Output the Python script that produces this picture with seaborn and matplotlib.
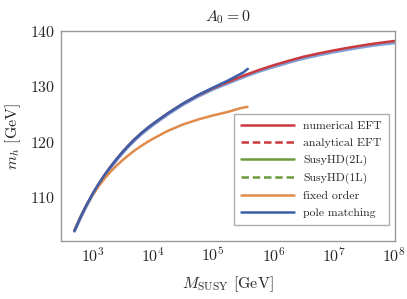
import numpy as np
import pandas as pd
import matplotlib
matplotlib.use("Agg")
import matplotlib.pyplot as plt
import seaborn as sns
from matplotlib.lines import Line2D

# log10(M_SUSY / GeV) grid and m_h values
logm_eft = [2.70, 2.80, 2.90, 3.00, 3.10, 3.20, 3.30, 3.40, 3.50, 3.60, 3.70,
            3.80, 3.90, 4.00, 4.25, 4.50, 4.75, 5.00, 5.25, 5.50, 5.75, 6.00,
            6.25, 6.50, 6.75, 7.00, 7.25, 7.50, 7.75, 8.00]
mh_eft = [103.9, 106.3, 108.5, 110.5, 112.3, 113.95, 115.45, 116.85, 118.15,
          119.35, 120.45, 121.45, 122.35, 123.2, 125.15, 126.9, 128.4, 129.7,
          130.85, 131.95, 132.95, 133.85, 134.65, 135.4, 136.0, 136.55, 137.05,
          137.5, 137.9, 138.25]
mh_low = [103.7, 106.1, 108.3, 110.3, 112.1, 113.75, 115.25, 116.65, 117.95,
          119.15, 120.25, 121.25, 122.15, 123.0, 124.95, 126.7, 128.2, 129.5,
          130.6, 131.7, 132.7, 133.55, 134.35, 135.1, 135.7, 136.25, 136.75,
          137.2, 137.6, 137.9]

logm_fo = [2.70, 2.80, 2.90, 3.00, 3.10, 3.20, 3.30, 3.40, 3.50, 3.60, 3.70,
           3.80, 3.90, 4.00, 4.25, 4.50, 4.75, 5.00, 5.25, 5.45, 5.57]
mh_fo = [103.9, 106.3, 108.45, 110.3, 111.9, 113.3, 114.55, 115.65, 116.65,
         117.55, 118.4, 119.15, 119.85, 120.5, 121.95, 123.1, 124.0, 124.75,
         125.4, 126.05, 126.3]

logm_pole = [2.70, 2.80, 2.90, 3.00, 3.10, 3.20, 3.30, 3.40, 3.50, 3.60, 3.70,
             3.80, 3.90, 4.00, 4.25, 4.50, 4.75, 5.00, 5.25, 5.50, 5.574]
mh_pole = [103.8, 106.3, 108.5, 110.5, 112.3, 113.95, 115.45, 116.85, 118.15,
           119.35, 120.45, 121.45, 122.35, 123.2, 125.15, 126.9, 128.45, 129.8,
           131.1, 132.55, 133.2]

legend_labels = ["numerical EFT", "analytical EFT", "SusyHD(2L)", "SusyHD(1L)",
                 "fixed order", "pole matching"]

red = "#c8383c"
green = "#6b9a3c"
orange = "#e08a4b"
blue = "#3b5fa8"
lightblue = "#6a8fcf"

sns.set_style("white")
plt.rcParams["font.family"] = "serif"
plt.rcParams["font.serif"] = ["cmr10", "DejaVu Serif"]
plt.rcParams["mathtext.fontset"] = "cm"
plt.rcParams["axes.formatter.use_mathtext"] = True

eft_df = pd.DataFrame({"M": np.power(10.0, logm_eft), "mh": mh_eft, "low": mh_low})
fo_df = pd.DataFrame({"M": np.power(10.0, logm_fo), "mh": mh_fo})
pole_df = pd.DataFrame({"M": np.power(10.0, logm_pole), "mh": mh_pole})

fig = plt.figure(figsize=(4.07, 2.99), dpi=100)
ax = fig.add_axes([0.150, 0.195, 0.820, 0.700])

sns.lineplot(data=eft_df, x="M", y="low", color=lightblue, lw=2.2, alpha=0.85, ax=ax)
sns.lineplot(data=eft_df, x="M", y="mh", color=red, lw=1.8, ax=ax)
sns.lineplot(data=fo_df, x="M", y="mh", color=orange, lw=1.8, ax=ax)
sns.lineplot(data=pole_df, x="M", y="mh", color=blue, lw=1.8, ax=ax)

ax.set_xscale("log")
ax.set_xlim(300, 1.03e8)
ax.set_ylim(102, 140)
ax.set_xticks([1e3, 1e4, 1e5, 1e6, 1e7, 1e8])
ax.set_yticks([110, 120, 130, 140])
ax.minorticks_off()
ax.tick_params(direction="in", length=3.5, color="#999999", labelsize=11.5, pad=4)
for s in ax.spines.values():
    s.set_color("#999999")
    s.set_linewidth(1.0)

ax.set_xlabel(r"$M_{\mathrm{SUSY}}$ [GeV]", fontsize=11.5, labelpad=7)
ax.set_ylabel(r"$m_h$ [GeV]", fontsize=11.5, labelpad=5)
ax.set_title(r"$A_0 = 0$", fontsize=11.5, pad=7)

# legend proxies (the SusyHD / analytical curves sit under the others)
handles = [Line2D([], [], color=red, lw=1.8),
           Line2D([], [], color=red, lw=1.8, ls=(0, (3, 1.5))),
           Line2D([], [], color=green, lw=1.8),
           Line2D([], [], color=green, lw=1.8, ls=(0, (3, 1.5))),
           Line2D([], [], color=orange, lw=1.8),
           Line2D([], [], color=blue, lw=1.8)]
leg = ax.legend(handles, legend_labels, loc="lower right",
                bbox_to_anchor=(0.982, 0.075), borderaxespad=0,
                fontsize=8.5, handlelength=4.5, labelspacing=0.56,
                frameon=True, fancybox=False, edgecolor="#999999",
                borderpad=0.6, handletextpad=0.75)
leg.get_frame().set_linewidth(1.0)

fig.savefig("out.png", dpi=100)
